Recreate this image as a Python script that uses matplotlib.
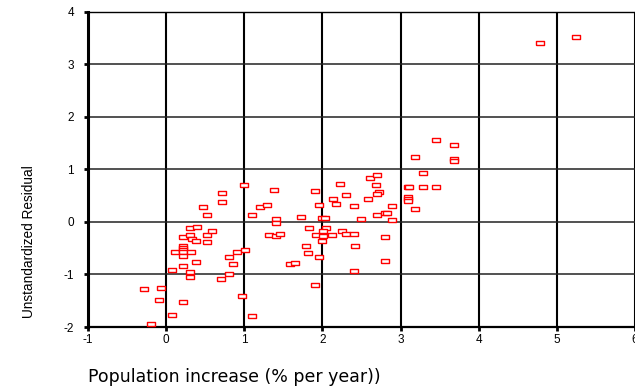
import matplotlib
matplotlib.use("Agg")
import matplotlib.pyplot as plt
import numpy as np

# population growth (% per year) vs unstandardized residual
pop_growth = [-0.28, -0.07, -0.09, -0.19, 0.07, 0.21, 0.07, 0.11, 0.21, 0.21,
              0.21, 0.21, 0.22, 0.32, 0.21, 0.21, 0.31, 0.31, 0.38, 0.31,
              0.40, 0.31, 0.33, 0.38, 0.52, 0.52, 0.59, 0.47, 0.52, 0.71,
              0.71, 0.99, 0.80, 0.91, 1.01, 0.85, 0.80, 0.70, 0.97, 1.10,
              1.10, 1.20, 1.29, 1.38, 1.41, 1.41, 1.32, 1.41, 1.46, 1.72,
              1.83, 1.79, 1.81, 1.59, 1.65, 1.90, 1.95, 1.95, 1.90, 1.92,
              2.00, 2.03, 2.04, 2.01, 2.00, 2.01, 2.12, 2.14, 2.17, 2.22,
              2.30, 2.40, 2.25, 2.30, 2.40, 2.42, 2.40, 2.49, 2.58, 2.61,
              2.70, 2.68, 2.72, 2.70, 2.70, 2.80, 2.83, 2.89, 2.89, 2.80,
              2.80, 3.09, 3.11, 3.10, 3.10, 3.10, 3.19, 3.19, 3.29, 3.29,
              3.45, 3.45, 3.69, 3.69, 3.69, 4.79, 5.25]
residual = [-1.27, -1.25, -1.49, -1.95, -1.77, -1.53, -0.91, -0.57, -0.29, -0.46,
            -0.50, -0.54, -0.57, -0.57, -0.65, -0.83, -0.95, -1.05, -0.77, -0.11,
            -0.09, -0.25, -0.33, -0.37, -0.25, -0.39, -0.17, 0.29, 0.13, 0.55,
            0.37, 0.70, -0.67, -0.57, -0.53, -0.81, -0.99, -1.09, -1.41, -1.79,
            0.13, 0.29, 0.33, 0.61, 0.05, -0.03, -0.25, -0.27, -0.23, 0.09,
            -0.11, -0.45, -0.59, -0.81, -0.79, 0.58, 0.33, -0.67, -1.21, -0.25,
            0.08, 0.07, -0.12, -0.18, -0.36, -0.27, -0.25, 0.43, 0.34, 0.72,
            0.51, 0.30, -0.17, -0.23, -0.23, -0.45, -0.93, 0.06, 0.44, 0.83,
            0.89, 0.70, 0.57, 0.53, 0.13, 0.17, 0.17, 0.03, 0.30, -0.28,
            -0.75, 0.66, 0.66, 0.48, 0.44, 0.40, 0.24, 1.24, 0.93, 0.66,
            0.66, 1.56, 1.46, 1.19, 1.15, 3.41, 3.52]

x_ticks = [-1, 0, 1, 2, 3, 4, 5, 6]
y_ticks = [-2, -1, 0, 1, 2, 3, 4]

plt.rcParams['font.family'] = ['Liberation Sans', 'DejaVu Sans']

fig = plt.figure(figsize=(6.35, 3.87), dpi=100)
ax = fig.add_axes([88/635, 1-327/387, 1-88/635, (327-11.7)/387])

# grid lines drawn by hand so vertical and horizontal can differ
for xv in x_ticks[1:]:
    ax.axvline(xv, color='black', lw=1.5, zorder=1)
for yv in y_ticks[1:-1]:
    ax.axhline(yv, color='#222222', lw=1.1, zorder=1)

# wide hollow rectangle marker
rect = [(-1.7, -1), (1.7, -1), (1.7, 1), (-1.7, 1), (-1.7, -1)]
ax.plot(pop_growth, residual, ls='none', marker=rect, markersize=5.8,
        markerfacecolor='white', markeredgecolor='#ff0000', markeredgewidth=1.0,
        zorder=3, clip_on=False)

ax.set_xlim(-1, 6)
ax.set_ylim(-2, 4)
ax.set_xticks(x_ticks)
ax.set_yticks(y_ticks)
ax.set_xticklabels([str(t) for t in x_ticks])
ax.set_yticklabels([str(t) for t in y_ticks])
ax.tick_params(direction='out', length=3, width=2, labelsize=8.5)
ax.tick_params(axis='x', pad=2)
ax.tick_params(axis='y', pad=7)

ax.spines['left'].set_linewidth(2.2)
ax.spines['bottom'].set_linewidth(1.6)
ax.spines['top'].set_linewidth(1.0)
ax.spines['right'].set_visible(False)

fig.text(29/635, 1-242/387, 'Unstandardized Residual', rotation=90,
         ha='center', va='center', fontsize=9.8,
         family=['Liberation Sans Narrow', 'Liberation Sans', 'DejaVu Sans'])
fig.text(88/635, 1-377/387, 'Population increase (% per year))',
         ha='left', va='center', fontsize=12.5, family=['DejaVu Sans'])

fig.savefig('out.png', dpi=100)
